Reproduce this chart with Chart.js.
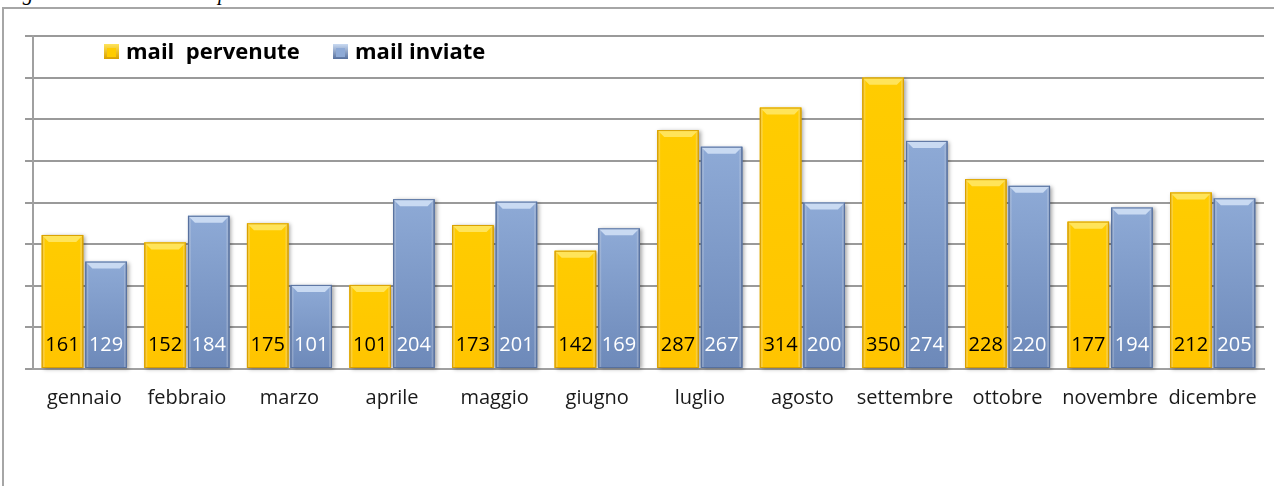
<!DOCTYPE html>
<html>
<head>
<meta charset="utf-8">
<script src="https://cdn.jsdelivr.net/npm/chart.js@4/dist/chart.umd.min.js"></script>
<style>
  body { margin: 0; background: #fff; overflow: hidden; }
  #wrap { position: relative; width: 1274px; height: 486px; }
  #titolo { position: absolute; left: 4px; top: -19px; font: italic 21px "Liberation Serif", serif; color: #000; white-space: nowrap; }
  #riquadro { position: absolute; left: 2px; top: 7px; width: 1300px; height: 500px; border: 2px solid #a6a6a6; box-sizing: border-box; }
  canvas { position: absolute; left: 0; top: 0; }
</style>
</head>
<body>
<div id="wrap">
  <div id="titolo">Figura 10 – Flusso della posta elettronica nel 2012</div>
  <div id="riquadro"></div>
  <canvas id="grafico" width="1274" height="486"></canvas>
</div>
<script>
// dati
const mesi = ['gennaio', 'febbraio', 'marzo', 'aprile', 'maggio', 'giugno', 'luglio', 'agosto', 'settembre', 'ottobre', 'novembre', 'dicembre'];
const mailPervenute = [161, 152, 175, 101, 173, 142, 287, 314, 350, 228, 177, 212];
const mailInviate = [129, 184, 101, 204, 201, 169, 267, 200, 274, 220, 194, 205];
const nomiSerie = ['mail  pervenute', 'mail inviate'];

const FONT = '"Open Sans", Lato, sans-serif';

// colori delle barre (stile 3D di Excel)
const stili = [
    { top: '#ffe45a', mid: '#ffcc00', bot: '#ffc400', side: '#d9a000', text: '#000000' },
    { top: '#c9daf2', mid: '#8eaad6', bot: '#6d89b9', side: '#56709e', text: '#ffffff' }
];

// disegna le barre con smusso, le etichette e la legenda
const barre3d = {
    id: 'barre3d',
    afterDatasetsDraw(chart) {
        const ctx = chart.ctx;
        chart.data.datasets.forEach((ds, i) => {
            const st = stili[i];
            chart.getDatasetMeta(i).data.forEach((el, j) => {
                const p = el.getProps(['x', 'y', 'base', 'width'], true);
                const l = p.x - p.width / 2, r = p.x + p.width / 2, t = p.y, b = p.base;
                ctx.save();
                // ombra
                ctx.shadowColor = 'rgba(0,0,0,0.35)';
                ctx.shadowBlur = 4;
                ctx.shadowOffsetX = 2;
                ctx.shadowOffsetY = 1;
                const g = ctx.createLinearGradient(0, t, 0, b);
                g.addColorStop(0, st.mid);
                g.addColorStop(1, st.bot);
                ctx.fillStyle = g;
                ctx.fillRect(l, t, r - l, b - t);
                ctx.restore();
                ctx.save();
                // bordi laterali scuri
                const gs = ctx.createLinearGradient(l, 0, r, 0);
                gs.addColorStop(0, st.side);
                gs.addColorStop(0.08, 'rgba(255,255,255,0)');
                gs.addColorStop(0.92, 'rgba(255,255,255,0)');
                gs.addColorStop(1, st.side);
                ctx.fillStyle = gs;
                ctx.fillRect(l, t, r - l, b - t);
                // smusso superiore
                ctx.beginPath();
                ctx.moveTo(l, t);
                ctx.lineTo(r, t);
                ctx.lineTo(r - 7, t + 7);
                ctx.lineTo(l + 7, t + 7);
                ctx.closePath();
                ctx.fillStyle = st.top;
                ctx.fill();
                ctx.strokeStyle = st.side;
                ctx.lineWidth = 1;
                ctx.strokeRect(l + 0.5, t + 0.5, r - l - 1, b - t - 1);
                // etichetta del valore
                ctx.fillStyle = st.text;
                ctx.font = '20px ' + FONT;
                ctx.textAlign = 'center';
                ctx.textBaseline = 'alphabetic';
                ctx.fillText(String(ds.data[j]), p.x, b - 17);
                ctx.restore();
            });
        });
    },
    afterDraw(chart) {
        const ctx = chart.ctx;
        const pos = [104, 333];
        ctx.save();
        ctx.font = 'bold 22px ' + FONT;
        ctx.textBaseline = 'alphabetic';
        chart.data.datasets.forEach((ds, i) => {
            const st = stili[i];
            const x = pos[i], y = 44;
            const g = ctx.createLinearGradient(0, y, 0, y + 15);
            g.addColorStop(0, st.top);
            g.addColorStop(1, st.side);
            ctx.fillStyle = g;
            ctx.fillRect(x, y, 15, 15);
            ctx.fillStyle = st.mid;
            ctx.fillRect(x + 3, y + 4, 9, 9);
            ctx.fillStyle = '#000';
            ctx.fillText(ds.label, x + 22, y + 15);
        });
        ctx.restore();
    }
};

const ctx = document.getElementById('grafico').getContext('2d');
const chart = new Chart(ctx, {
    type: 'bar',
    data: {
        labels: mesi,
        datasets: [
            { label: nomiSerie[0], data: mailPervenute, backgroundColor: stili[0].mid },
            { label: nomiSerie[1], data: mailInviate, backgroundColor: stili[1].mid }
        ]
    },
    options: {
        responsive: false,
        animation: false,
        layout: { padding: { left: 25, right: 10, top: 36, bottom: 67 } },
        datasets: { bar: { categoryPercentage: 0.85, barPercentage: 0.95 } },
        plugins: { legend: { display: false }, tooltip: { enabled: false } },
        scales: {
            x: {
                grid: { display: false },
                border: { display: true, color: '#a0a0a0', width: 2 },
                ticks: { color: '#1a1a1a', padding: 9, font: { family: FONT, size: 20 } }
            },
            y: {
                min: 0,
                max: 400,
                ticks: { display: false, stepSize: 50 },
                grid: { color: '#9a9a9a', lineWidth: 2, tickLength: 8 },
                border: { display: true, color: '#a0a0a0', width: 2 }
            }
        }
    },
    plugins: [barre3d]
});
</script>
</body>
</html>
